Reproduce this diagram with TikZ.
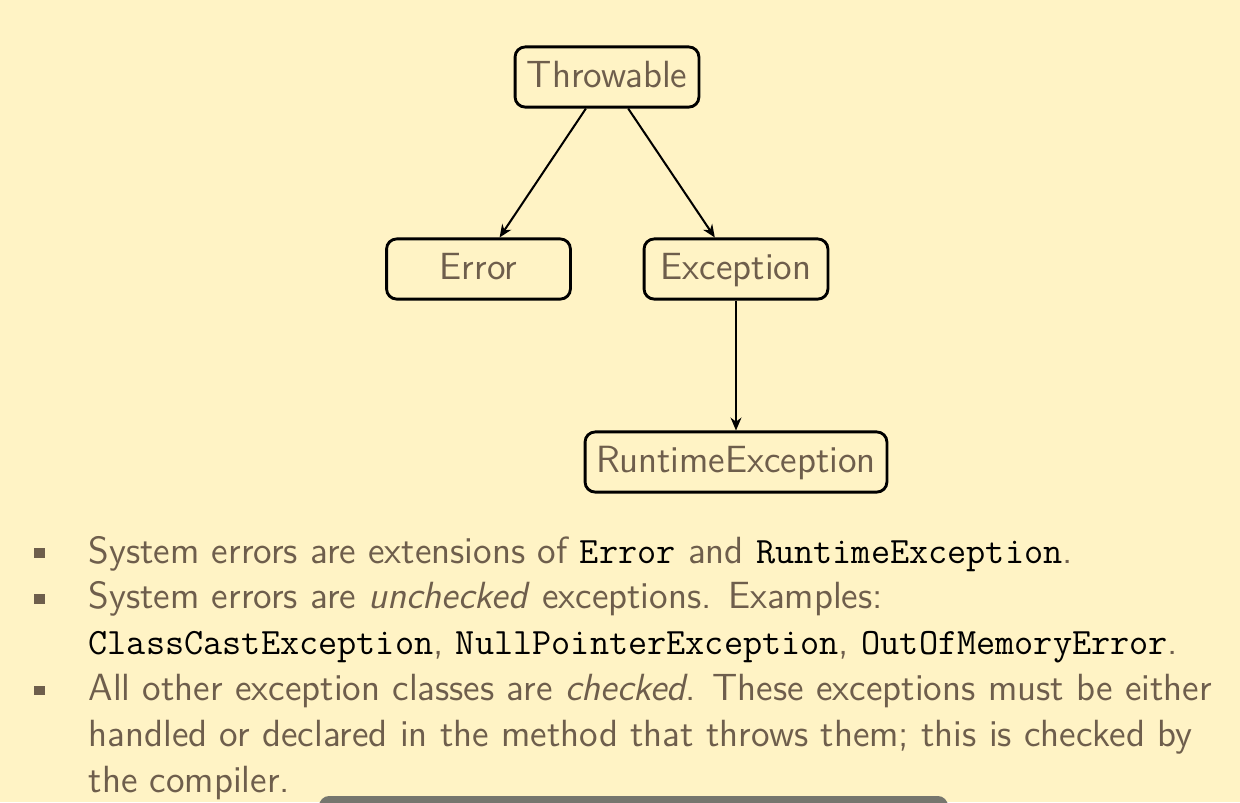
\documentclass[tikz,border=0pt]{standalone}
\usepackage{fontspec}
\usetikzlibrary{arrows.meta}
\definecolor{slidebg}{RGB}{255,243,197}
\definecolor{slidetext}{RGB}{110,94,76}
\definecolor{boxgray}{RGB}{118,118,110}
\newcommand{\jcode}[1]{{\color{black}\fontsize{11}{13.6}\ttfamily #1}}
\tikzset{
  cls/.style={draw, line width=0.85pt, rounded corners=3pt, text=slidetext,
    minimum width=54.4pt, minimum height=17.8pt,
    text height=1.8ex, text depth=0.3ex,
    font=\sffamily\fontsize{11.2}{13.6}\selectfont},
  textline/.style={anchor=base west, inner sep=0pt, text=slidetext,
    font=\sffamily\fontsize{11.2}{13.6}\selectfont},
  bullet/.style={fill=slidetext, inner sep=0pt, minimum width=3pt, minimum height=2.8pt},
  inherits/.style={-{Stealth[length=3.8pt, width=3.2pt, inset=1.2pt]}, line width=0.6pt}
}
\begin{document}
\begin{tikzpicture}[x=0.29586pt, y=-0.29586pt]
  \fill[slidebg] (0,0) rectangle (1240,802);
  \useasboundingbox (0,0) rectangle (1240,802);

  % class hierarchy
  \node[cls] (throwable) at (607, 77) {Throwable};
  \node[cls] (error) at (478.5, 269) {Error};
  \node[cls] (exception) at (736, 269) {Exception};
  \node[cls] (runtime) at (736, 462) {RuntimeException};

  \draw[inherits] (throwable) -- (error);
  \draw[inherits] (throwable) -- (exception);
  \draw[inherits] (exception) -- (runtime);

  % bullet list
  \node[bullet] (b1) at (39.5, 553) {};
  \node[bullet] (b2) at (39.5, 598.8) {};
  \node[bullet] (b3) at (39.5, 690.4) {};

  \node[textline] (l1) at (88, 563) {System errors are extensions of \jcode{Error} and \jcode{RuntimeException}.};
  \node[textline] (l2) at (88, 608.8) {System errors are \emph{unchecked} exceptions. Examples:};
  \node[textline] (l3) at (88, 654.6) {\jcode{ClassCastException}, \jcode{NullPointerException}, \jcode{OutOfMemoryError}.};
  \node[textline] (l4) at (88, 700.4) {All other exception classes are \emph{checked}. These exceptions must be either};
  \node[textline] (l5) at (88, 746.2) {handled or declared in the method that throws them; this is checked by};
  \node[textline] (l6) at (88, 792) {the compiler.};

  % box below, cut off
  \fill[boxgray, rounded corners=3pt] (319, 830) rectangle (948, 796);
\end{tikzpicture}
\end{document}
